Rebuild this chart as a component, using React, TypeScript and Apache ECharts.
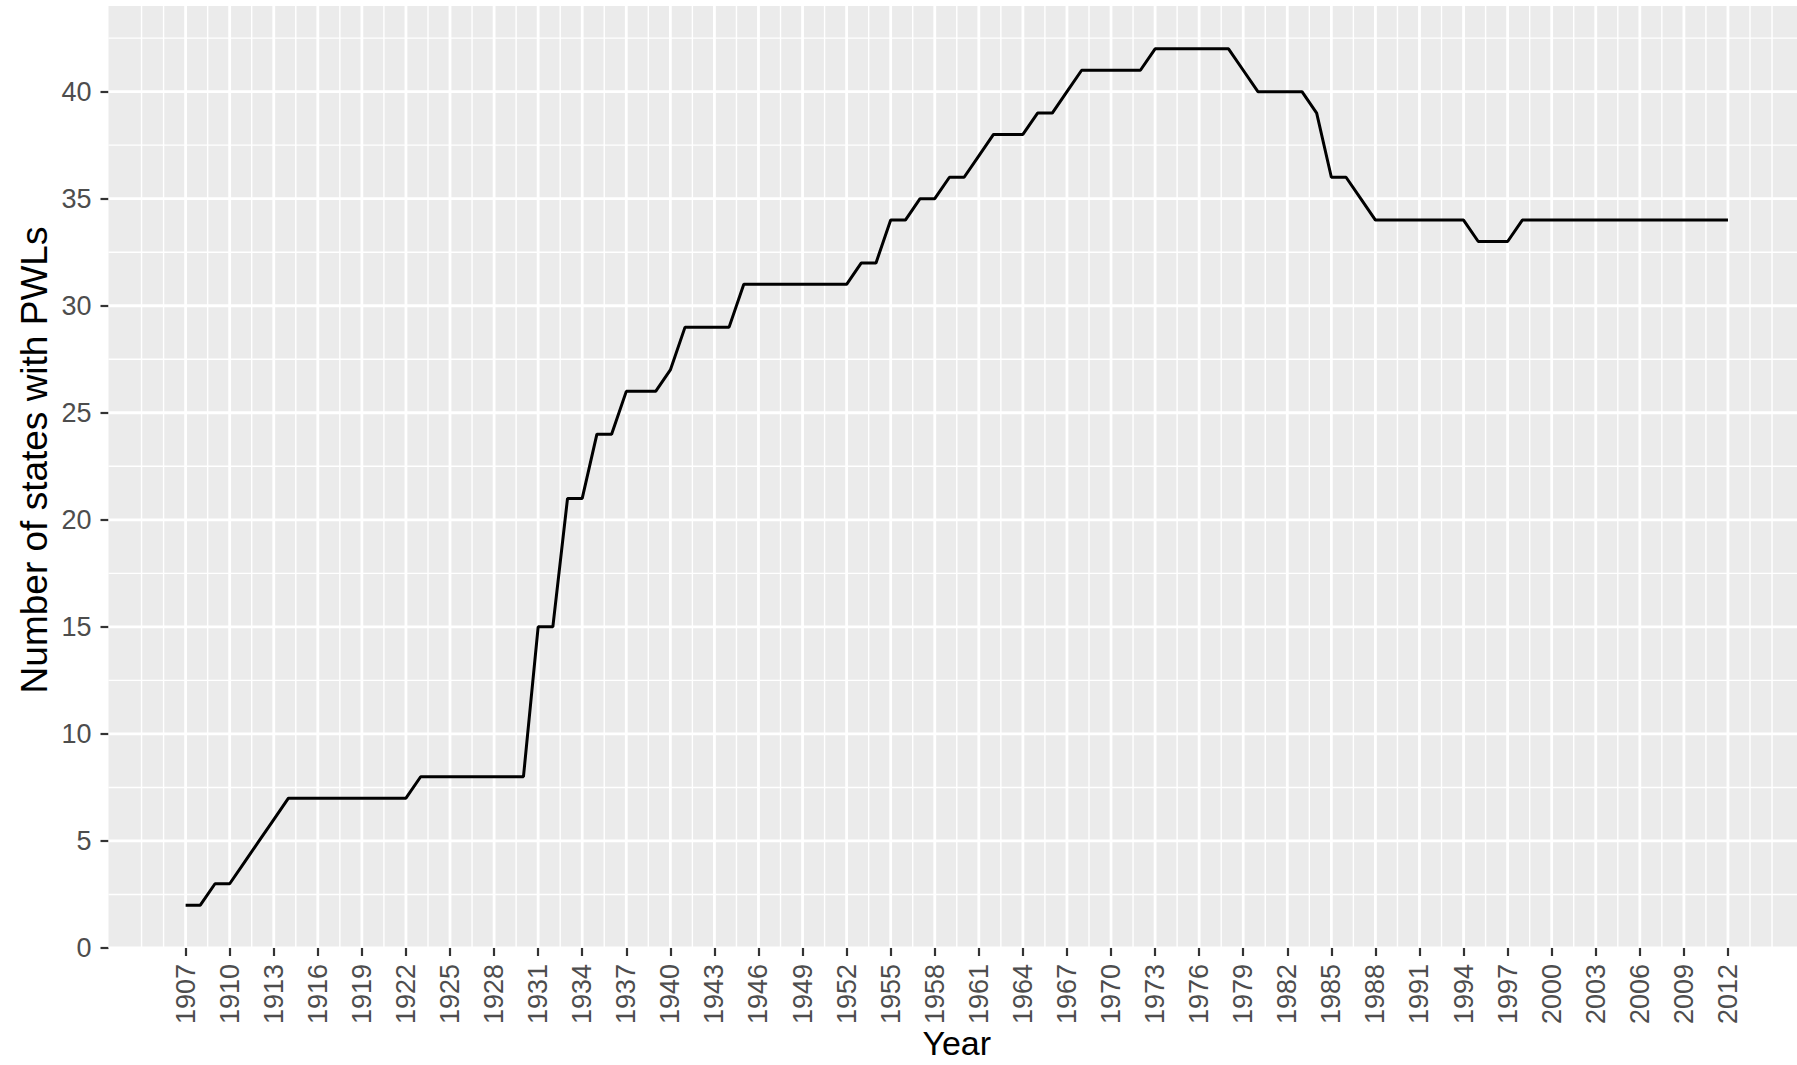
import React, { useEffect, useRef } from "react";
import * as echarts from "echarts";

// ---- Data ----
const years: number[] = [
  1907, 1908, 1909,
  1910, 1911, 1912, 1913, 1914, 1915, 1916, 1917, 1918, 1919,
  1920, 1921, 1922, 1923, 1924, 1925, 1926, 1927, 1928, 1929,
  1930, 1931, 1932, 1933, 1934, 1935, 1936, 1937, 1938, 1939,
  1940, 1941, 1942, 1943, 1944, 1945, 1946, 1947, 1948, 1949,
  1950, 1951, 1952, 1953, 1954, 1955, 1956, 1957, 1958, 1959,
  1960, 1961, 1962, 1963, 1964, 1965, 1966, 1967, 1968, 1969,
  1970, 1971, 1972, 1973, 1974, 1975, 1976, 1977, 1978, 1979,
  1980, 1981, 1982, 1983, 1984, 1985, 1986, 1987, 1988, 1989,
  1990, 1991, 1992, 1993, 1994, 1995, 1996, 1997, 1998, 1999,
  2000, 2001, 2002, 2003, 2004, 2005, 2006, 2007, 2008, 2009,
  2010, 2011, 2012,
];

const statesWithPWLs: number[] = [
  2, 2, 3,
  3, 4, 5, 6, 7, 7, 7, 7, 7, 7,
  7, 7, 7, 8, 8, 8, 8, 8, 8, 8,
  8, 15, 15, 21, 21, 24, 24, 26, 26, 26,
  27, 29, 29, 29, 29, 31, 31, 31, 31, 31,
  31, 31, 31, 32, 32, 34, 34, 35, 35, 36,
  36, 37, 38, 38, 38, 39, 39, 40, 41, 41,
  41, 41, 41, 42, 42, 42, 42, 42, 42, 41,
  40, 40, 40, 40, 39, 36, 36, 35, 34, 34,
  34, 34, 34, 34, 34, 33, 33, 33, 34, 34,
  34, 34, 34, 34, 34, 34, 34, 34, 34, 34,
  34, 34, 34,
];

const xTickYears: number[] = [
  1907, 1910, 1913, 1916, 1919, 1922, 1925, 1928, 1931, 1934, 1937, 1940,
  1943, 1946, 1949, 1952, 1955, 1958, 1961, 1964, 1967, 1970, 1973, 1976,
  1979, 1982, 1985, 1988, 1991, 1994, 1997, 2000, 2003, 2006, 2009, 2012,
];

const yTicks: number[] = [0, 5, 10, 15, 20, 25, 30, 35, 40];

const xTitle = "Year";
const yTitle = "Number of states with PWLs";

export default function App() {
  const ref = useRef<HTMLDivElement>(null);

  useEffect(() => {
    if (!ref.current) return;
    const chart = echarts.init(ref.current, undefined, { renderer: "svg" });

    const xMin = 1901.75;
    const xMax = 2016.7;
    const yMin = 0;
    const yMax = 44;

    // gridline positions (ggplot-style major + minor breaks)
    const xStep = xTickYears[1] - xTickYears[0];
    const xExt = [xTickYears[0] - xStep, ...xTickYears, xTickYears[xTickYears.length - 1] + xStep];
    const xMinor: number[] = [];
    for (let i = 0; i < xExt.length - 1; i++) {
      xMinor.push(xExt[i], (xExt[i] + xExt[i + 1]) / 2);
    }
    xMinor.push(xExt[xExt.length - 1]);
    const yStep = yTicks[1] - yTicks[0];
    const yExt = [...yTicks, yTicks[yTicks.length - 1] + yStep];
    const yMinor: number[] = [];
    for (let i = 0; i < yExt.length - 1; i++) {
      yMinor.push((yExt[i] + yExt[i + 1]) / 2);
    }

    const gridData: number[][] = [];
    xMinor
      .filter((v) => v > xMin && v < xMax && !xTickYears.includes(v))
      .forEach((v) => gridData.push([v, 0, 0]));
    yMinor
      .filter((v) => v > yMin && v < yMax)
      .forEach((v) => gridData.push([v, 1, 0]));
    xTickYears.forEach((v) => gridData.push([v, 0, 1]));
    yTicks.forEach((v) => gridData.push([v, 1, 1]));

    const font = "Liberation Sans, Arial, Helvetica, sans-serif";

    chart.setOption({
      animation: false,
      backgroundColor: "#FFFFFF",
      grid: {
        left: 108.5,
        right: 0,
        top: 6,
        bottom: 117,
        show: true,
        backgroundColor: "#EBEBEB",
        borderWidth: 0,
        containLabel: false,
        outerBoundsMode: "none",
      },
      xAxis: {
        type: "value",
        min: xMin,
        max: xMax,
        name: xTitle,
        nameLocation: "middle",
        nameGap: 78,
        nameMoveOverlap: false,
        nameTextStyle: {
          fontSize: 34,
          lineHeight: 34,
          color: "#000000",
          fontFamily: font,
          padding: [0, 0, 0, 8],
        },
        axisLine: { show: false },
        axisTick: {
          show: true,
          length: 8,
          customValues: xTickYears,
          lineStyle: { color: "#333333", width: 2.2 },
        },
        axisLabel: {
          show: true,
          customValues: xTickYears,
          rotate: 90,
          margin: 16,
          fontSize: 27,
          color: "#4D4D4D",
          fontFamily: font,
          formatter: (v: number) => String(v),
        },
        splitLine: { show: false },
      },
      yAxis: {
        type: "value",
        min: yMin,
        max: yMax,
        axisLine: { show: false },
        axisTick: {
          show: true,
          length: 8,
          customValues: yTicks,
          lineStyle: { color: "#333333", width: 2.2 },
        },
        axisLabel: {
          show: true,
          customValues: yTicks,
          margin: 17,
          fontSize: 27,
          color: "#4D4D4D",
          fontFamily: font,
          formatter: (v: number) => String(v),
        },
        splitLine: { show: false },
      },
      graphic: [
        {
          type: "text",
          x: 34,
          y: 460,
          rotation: Math.PI / 2,
          style: {
            text: yTitle,
            fontSize: 37,
            fill: "#000000",
            fontFamily: font,
            textAlign: "center",
            textVerticalAlign: "middle",
          },
          silent: true,
        },
      ],
      series: [
        {
          type: "custom",
          name: "grid",
          silent: true,
          z: 1,
          clip: true,
          data: gridData,
          renderItem: (params: any, api: any) => {
            const v = api.value(0);
            const orient = api.value(1);
            const major = api.value(2);
            const cs = params.coordSys;
            const lw = major ? 2.8 : 1.4;
            if (orient === 0) {
              const p = api.coord([v, yMin]);
              return {
                type: "line",
                shape: { x1: p[0], y1: cs.y, x2: p[0], y2: cs.y + cs.height },
                style: { stroke: "#FFFFFF", lineWidth: lw },
              };
            }
            const p = api.coord([xMin, v]);
            return {
              type: "line",
              shape: { x1: cs.x, y1: p[1], x2: cs.x + cs.width, y2: p[1] },
              style: { stroke: "#FFFFFF", lineWidth: lw },
            };
          },
        },
        {
          type: "line",
          name: "States with PWLs",
          z: 3,
          symbol: "none",
          data: years.map((y, i) => [y, statesWithPWLs[i]]),
          lineStyle: { color: "#000000", width: 3 },
        },
      ],
    });

    return () => {
      chart.dispose();
    };
  }, []);

  return (
    <div
      ref={ref}
      style={{
        position: "fixed",
        left: 0,
        top: 0,
        width: 1797,
        height: 1065,
        background: "#FFFFFF",
      }}
    />
  );
}
